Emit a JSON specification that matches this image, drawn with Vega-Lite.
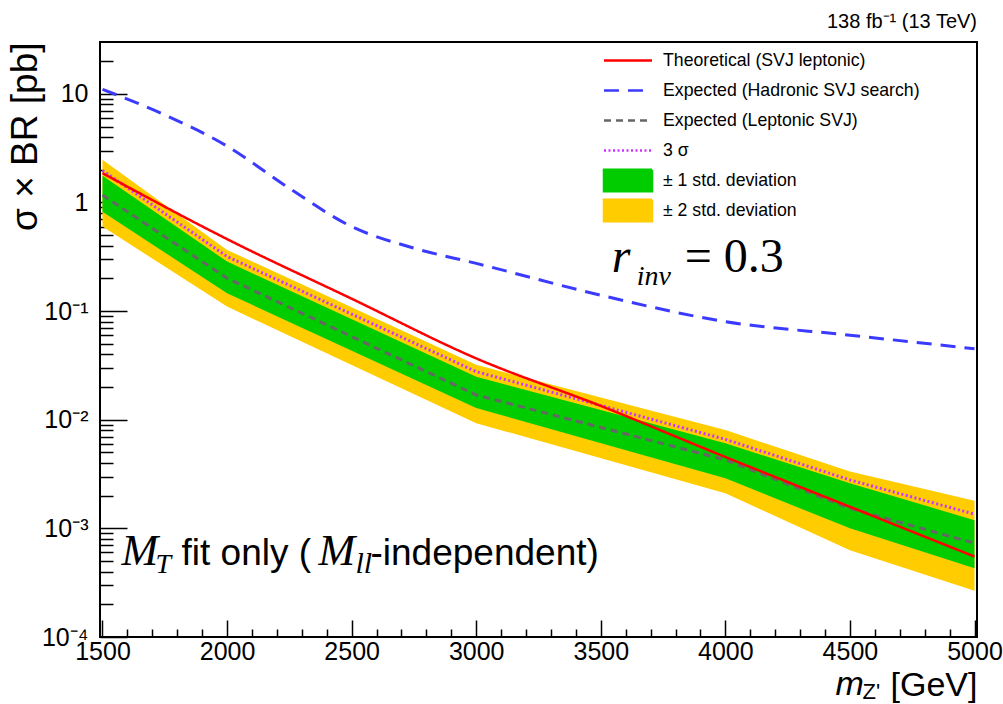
{
  "$schema": "https://vega.github.io/schema/vega-lite/v6.json",
  "width": 877,
  "height": 595,
  "autosize": {"type": "none"},
  "padding": {"left": 100, "top": 42, "right": 26, "bottom": 67},
  "background": "white",
  "config": {
    "view": {"stroke": "#000", "strokeWidth": 2},
    "font": "Liberation Sans",
    "axis": {"grid": false, "domain": false, "tickColor": "#000", "tickWidth": 1.5, "labelColor": "#000", "titleColor": "#000", "labelFont": "Liberation Sans", "titleFont": "Liberation Sans", "titleFontWeight": "normal", "labelOverlap": false}
  },
  "resolve": {"axis": {"x": "independent"}},
  "datasets": {
    "curves": [
      {"series": "Theoretical (SVJ leptonic)", "m": 1500, "value": 1.86},
      {"series": "Theoretical (SVJ leptonic)", "m": 2000, "value": 0.46},
      {"series": "Theoretical (SVJ leptonic)", "m": 2500, "value": 0.13},
      {"series": "Theoretical (SVJ leptonic)", "m": 3000, "value": 0.0367},
      {"series": "Theoretical (SVJ leptonic)", "m": 3500, "value": 0.0134},
      {"series": "Theoretical (SVJ leptonic)", "m": 4000, "value": 0.00454},
      {"series": "Theoretical (SVJ leptonic)", "m": 4500, "value": 0.00158},
      {"series": "Theoretical (SVJ leptonic)", "m": 5000, "value": 0.00055},
      {"series": "Expected (Hadronic SVJ search)", "m": 1500, "value": 11.0},
      {"series": "Expected (Hadronic SVJ search)", "m": 1750, "value": 6.4},
      {"series": "Expected (Hadronic SVJ search)", "m": 2000, "value": 3.3},
      {"series": "Expected (Hadronic SVJ search)", "m": 2250, "value": 1.35},
      {"series": "Expected (Hadronic SVJ search)", "m": 2500, "value": 0.6},
      {"series": "Expected (Hadronic SVJ search)", "m": 2750, "value": 0.38},
      {"series": "Expected (Hadronic SVJ search)", "m": 3000, "value": 0.275},
      {"series": "Expected (Hadronic SVJ search)", "m": 3500, "value": 0.14},
      {"series": "Expected (Hadronic SVJ search)", "m": 4000, "value": 0.08},
      {"series": "Expected (Hadronic SVJ search)", "m": 4500, "value": 0.06},
      {"series": "Expected (Hadronic SVJ search)", "m": 5000, "value": 0.045},
      {"series": "Expected (Leptonic SVJ)", "m": 1500, "value": 1.17},
      {"series": "Expected (Leptonic SVJ)", "m": 2000, "value": 0.201},
      {"series": "Expected (Leptonic SVJ)", "m": 3000, "value": 0.0169},
      {"series": "Expected (Leptonic SVJ)", "m": 4000, "value": 0.00427},
      {"series": "Expected (Leptonic SVJ)", "m": 4500, "value": 0.00153},
      {"series": "Expected (Leptonic SVJ)", "m": 5000, "value": 0.00073},
      {"series": "3 σ", "m": 1500, "value": 1.97},
      {"series": "3 σ", "m": 2000, "value": 0.318},
      {"series": "3 σ", "m": 3000, "value": 0.0277},
      {"series": "3 σ", "m": 4000, "value": 0.0066},
      {"series": "3 σ", "m": 4500, "value": 0.00279},
      {"series": "3 σ", "m": 5000, "value": 0.00135}
    ],
    "bands": [
      {"series": "± 1 std. deviation", "m": 1500, "lo": 0.82, "hi": 1.76},
      {"series": "± 1 std. deviation", "m": 2000, "lo": 0.146, "hi": 0.286},
      {"series": "± 1 std. deviation", "m": 3000, "lo": 0.0128, "hi": 0.0249},
      {"series": "± 1 std. deviation", "m": 4000, "lo": 0.00289, "hi": 0.00608},
      {"series": "± 1 std. deviation", "m": 4500, "lo": 0.001, "hi": 0.0026},
      {"series": "± 1 std. deviation", "m": 5000, "lo": 0.00043, "hi": 0.00119},
      {"series": "± 2 std. deviation", "m": 1500, "lo": 0.6, "hi": 2.47},
      {"series": "± 2 std. deviation", "m": 2000, "lo": 0.11, "hi": 0.366},
      {"series": "± 2 std. deviation", "m": 3000, "lo": 0.0093, "hi": 0.032},
      {"series": "± 2 std. deviation", "m": 4000, "lo": 0.0021, "hi": 0.00805},
      {"series": "± 2 std. deviation", "m": 4500, "lo": 0.00063, "hi": 0.00333},
      {"series": "± 2 std. deviation", "m": 5000, "lo": 0.000267, "hi": 0.0018}
    ]
  },
  "layer": [
    {
      "data": {"name": "bands"},
      "transform": [{"filter": "datum.series === '± 2 std. deviation'"}],
      "mark": {"type": "area", "opacity": 1},
      "encoding": {
        "x": {"field": "m", "type": "quantitative",
          "scale": {"domain": [1490, 5010], "nice": false, "zero": false},
          "axis": {
            "orient": "bottom",
            "values": [1500, 2000, 2500, 3000, 3500, 4000, 4500, 5000],
            "format": "d",
            "tickSize": -17,
            "labelFontSize": 25, "labelPadding": 19, "labelFlush": false, "labelOverlap": false,
            "title": "[GeV]", "titleFontSize": 34, "titleAnchor": "end", "titleAlign": "right",
            "titleX": 877, "titleY": 58, "titleBaseline": "alphabetic"
          }
        },
        "y": {"field": "lo", "type": "quantitative",
          "scale": {"type": "log", "domain": [0.0001, 30], "nice": false},
          "axis": {
            "values": [0.0001,0.0002,0.0003,0.0004,0.0005,0.0006,0.0007,0.0008,0.0009,0.001,0.002,0.003,0.004,0.005,0.006,0.007,0.008,0.009,0.01,0.02,0.03,0.04,0.05,0.06,0.07,0.08,0.09,0.1,0.2,0.3,0.4,0.5,0.6,0.7,0.8,0.9,1,2,3,4,5,6,7,8,9,10,20],
            "labelExpr": "abs(log(datum.value)/LN10 - round(log(datum.value)/LN10)) < 1e-6 ? (datum.value >= 10 ? '10' : (datum.value >= 1 ? '1' : '10' + ['⁻⁴','⁻³','⁻²','⁻¹'][round(log(datum.value)/LN10) + 4])) : ''",
            "tickSize": {"condition": {"test": "abs(log(datum.value)/LN10 - round(log(datum.value)/LN10)) < 1e-6", "value": -27}, "value": -13},
            "labelFontSize": 25, "labelPadding": 39, "labelOverlap": false, "labelFlush": false,
            "title": "σ × BR [pb]", "titleFontSize": 37, "titleAngle": 270, "titleAnchor": "end", "titleAlign": "right",
            "titleX": -64, "titleY": 0, "titleBaseline": "alphabetic"
          }
        },
        "y2": {"field": "hi"},
        "color": {"field": "series", "type": "nominal",
          "scale": {
            "domain": ["Theoretical (SVJ leptonic)", "Expected (Hadronic SVJ search)", "Expected (Leptonic SVJ)", "3 σ", "± 1 std. deviation", "± 2 std. deviation"],
            "range": ["#ff0000", "#3b3bff", "#666666", "#cc33ff", "#00cc00", "#ffcc00"]
          },
          "legend": {
            "orient": "none", "legendX": 514.5, "legendY": 5, "title": null, "padding": 0,
            "symbolSize": 576, "symbolStrokeWidth": 2.5, "labelFontSize": 17.7, "labelFont": "Liberation Sans", "labelColor": "#000",
            "labelOffset": 21.5, "rowPadding": -4.2, "labelLimit": 400,
            "symbolType": {"expr": "indexof(datum.value, 'std.') >= 0 ? 'M-2,-0.9H2V0.9H-2Z' : 'M-2,-0.9M2,0.9M-2,0H2'"},
            "encoding": {"symbols": {
              "shape": {"value": {"expr": "indexof(datum.value, 'std.') >= 0 ? 'M-2,-0.9H2V0.9H-2Z' : 'M-2,-0.9M2,0.9M-2,0H2'"}},
              "fill": {"value": {"expr": "indexof(datum.value, 'std.') >= 0 ? scale('color', datum.value) : 'transparent'"}},
              "stroke": {"value": {"expr": "indexof(datum.value, 'std.') >= 0 ? 'transparent' : scale('color', datum.value)"}},
              "strokeDash": {"value": {"expr": "scale('strokeDash', datum.value)"}},
              "strokeWidth": {"value": 2.5},
              "opacity": {"value": 1}
            }}
          }
        }
      }
    },
    {
      "data": {"name": "bands"},
      "transform": [{"filter": "datum.series === '± 1 std. deviation'"}],
      "mark": {"type": "area", "opacity": 1},
      "encoding": {
        "x": {"field": "m", "type": "quantitative",
          "axis": {
            "orient": "bottom",
            "values": [1600,1700,1800,1900,2100,2200,2300,2400,2600,2700,2800,2900,3100,3200,3300,3400,3600,3700,3800,3900,4100,4200,4300,4400,4600,4700,4800,4900],
            "labels": false, "title": null, "tickSize": -8, "domain": false, "grid": false
          }
        },
        "y": {"field": "lo", "type": "quantitative"},
        "y2": {"field": "hi"},
        "color": {"field": "series", "type": "nominal"}
      }
    },
    {
      "data": {"name": "curves"},
      "transform": [{"filter": "datum.series === 'Expected (Leptonic SVJ)'"}],
      "mark": {"type": "line", "strokeWidth": 3},
      "encoding": {
        "x": {"field": "m", "type": "quantitative", "axis": null},
        "y": {"field": "value", "type": "quantitative"},
        "color": {"field": "series", "type": "nominal"},
        "strokeDash": {"field": "series", "type": "nominal",
          "scale": {
            "domain": ["Theoretical (SVJ leptonic)", "Expected (Hadronic SVJ search)", "Expected (Leptonic SVJ)", "3 σ", "± 1 std. deviation", "± 2 std. deviation"],
            "range": [[1, 0], [15, 9], [7, 5], [2, 2.5], [1, 0], [1, 0]]
          },
          "legend": null
        }
      }
    },
    {
      "data": {"name": "curves"},
      "transform": [{"filter": "datum.series === '3 σ'"}],
      "mark": {"type": "line", "strokeWidth": 3},
      "encoding": {
        "x": {"field": "m", "type": "quantitative", "axis": null},
        "y": {"field": "value", "type": "quantitative"},
        "color": {"field": "series", "type": "nominal"},
        "strokeDash": {"field": "series", "type": "nominal", "legend": null}
      }
    },
    {
      "data": {"name": "curves"},
      "transform": [{"filter": "datum.series === 'Expected (Hadronic SVJ search)'"}],
      "mark": {"type": "line", "strokeWidth": 3, "interpolate": "monotone"},
      "encoding": {
        "x": {"field": "m", "type": "quantitative", "axis": null},
        "y": {"field": "value", "type": "quantitative"},
        "color": {"field": "series", "type": "nominal"},
        "strokeDash": {"field": "series", "type": "nominal", "legend": null}
      }
    },
    {
      "data": {"name": "curves"},
      "transform": [{"filter": "datum.series === 'Theoretical (SVJ leptonic)'"}],
      "mark": {"type": "line", "strokeWidth": 2.5, "interpolate": "monotone"},
      "encoding": {
        "x": {"field": "m", "type": "quantitative", "axis": null},
        "y": {"field": "value", "type": "quantitative"},
        "color": {"field": "series", "type": "nominal"},
        "strokeDash": {"field": "series", "type": "nominal", "legend": null}
      }
    },
    {
      "data": {"values": [{}]},
      "mark": {"type": "text", "text": "138 fb⁻¹ (13 TeV)", "font": "Liberation Sans", "fontSize": 20, "align": "right", "baseline": "alphabetic", "dy": -14, "color": "#000"},
      "encoding": {"x": {"datum": 5010, "type": "quantitative", "axis": null}, "y": {"datum": 30, "type": "quantitative"}}
    },
    {
      "data": {"values": [{}]},
      "mark": {"type": "text", "text": "r", "font": "Liberation Serif", "fontStyle": "italic", "fontSize": 48, "align": "left", "baseline": "alphabetic", "dx": 11, "dy": -39, "color": "#000"},
      "encoding": {"x": {"datum": 3500, "type": "quantitative", "axis": null}, "y": {"datum": 0.1, "type": "quantitative"}}
    },
    {
      "data": {"values": [{}]},
      "mark": {"type": "text", "text": "inv", "font": "Liberation Serif", "fontStyle": "italic", "fontSize": 28, "align": "left", "baseline": "alphabetic", "dx": 36, "dy": -26, "color": "#000"},
      "encoding": {"x": {"datum": 3500, "type": "quantitative", "axis": null}, "y": {"datum": 0.1, "type": "quantitative"}}
    },
    {
      "data": {"values": [{}]},
      "mark": {"type": "text", "text": "= 0.3", "font": "Liberation Serif", "fontSize": 48, "align": "left", "baseline": "alphabetic", "dx": 84, "dy": -39, "color": "#000"},
      "encoding": {"x": {"datum": 3500, "type": "quantitative", "axis": null}, "y": {"datum": 0.1, "type": "quantitative"}}
    },
    {
      "data": {"values": [{}]},
      "mark": {"type": "text", "text": "M", "font": "Liberation Serif", "fontStyle": "italic", "fontSize": 44, "align": "left", "baseline": "alphabetic", "dx": 19, "dy": 37, "color": "#000"},
      "encoding": {"x": {"datum": 1500, "type": "quantitative", "axis": null}, "y": {"datum": 0.001, "type": "quantitative"}}
    },
    {
      "data": {"values": [{}]},
      "mark": {"type": "text", "text": "T", "font": "Liberation Serif", "fontStyle": "italic", "fontSize": 28, "align": "left", "baseline": "alphabetic", "dx": 53, "dy": 45, "color": "#000"},
      "encoding": {"x": {"datum": 1500, "type": "quantitative", "axis": null}, "y": {"datum": 0.001, "type": "quantitative"}}
    },
    {
      "data": {"values": [{}]},
      "mark": {"type": "text", "text": "fit only (", "font": "Liberation Sans", "fontSize": 37, "align": "left", "baseline": "alphabetic", "dx": 79, "dy": 37, "color": "#000"},
      "encoding": {"x": {"datum": 1500, "type": "quantitative", "axis": null}, "y": {"datum": 0.001, "type": "quantitative"}}
    },
    {
      "data": {"values": [{}]},
      "mark": {"type": "text", "text": "M", "font": "Liberation Serif", "fontStyle": "italic", "fontSize": 44, "align": "left", "baseline": "alphabetic", "dx": 216, "dy": 37, "color": "#000"},
      "encoding": {"x": {"datum": 1500, "type": "quantitative", "axis": null}, "y": {"datum": 0.001, "type": "quantitative"}}
    },
    {
      "data": {"values": [{}]},
      "mark": {"type": "text", "text": "ll", "font": "Liberation Serif", "fontStyle": "italic", "fontSize": 30, "align": "left", "baseline": "alphabetic", "dx": 253, "dy": 45, "color": "#000"},
      "encoding": {"x": {"datum": 1500, "type": "quantitative", "axis": null}, "y": {"datum": 0.001, "type": "quantitative"}}
    },
    {
      "data": {"values": [{}]},
      "mark": {"type": "text", "text": "-independent)", "font": "Liberation Sans", "fontSize": 37, "align": "left", "baseline": "alphabetic", "dx": 268, "dy": 37, "color": "#000"},
      "encoding": {"x": {"datum": 1500, "type": "quantitative", "axis": null}, "y": {"datum": 0.001, "type": "quantitative"}}
    },
    {
      "data": {"values": [{}]},
      "mark": {"type": "text", "text": "m", "font": "Liberation Sans", "fontStyle": "italic", "fontSize": 34, "align": "left", "baseline": "alphabetic", "dx": -139, "dy": 58, "color": "#000"},
      "encoding": {"x": {"datum": 5000, "type": "quantitative", "axis": null}, "y": {"datum": 0.0001, "type": "quantitative"}}
    },
    {
      "data": {"values": [{}]},
      "mark": {"type": "text", "text": "Z'", "font": "Liberation Sans", "fontSize": 22, "align": "left", "baseline": "alphabetic", "dx": -112, "dy": 62, "color": "#000"},
      "encoding": {"x": {"datum": 5000, "type": "quantitative", "axis": null}, "y": {"datum": 0.0001, "type": "quantitative"}}
    }
  ]
}
